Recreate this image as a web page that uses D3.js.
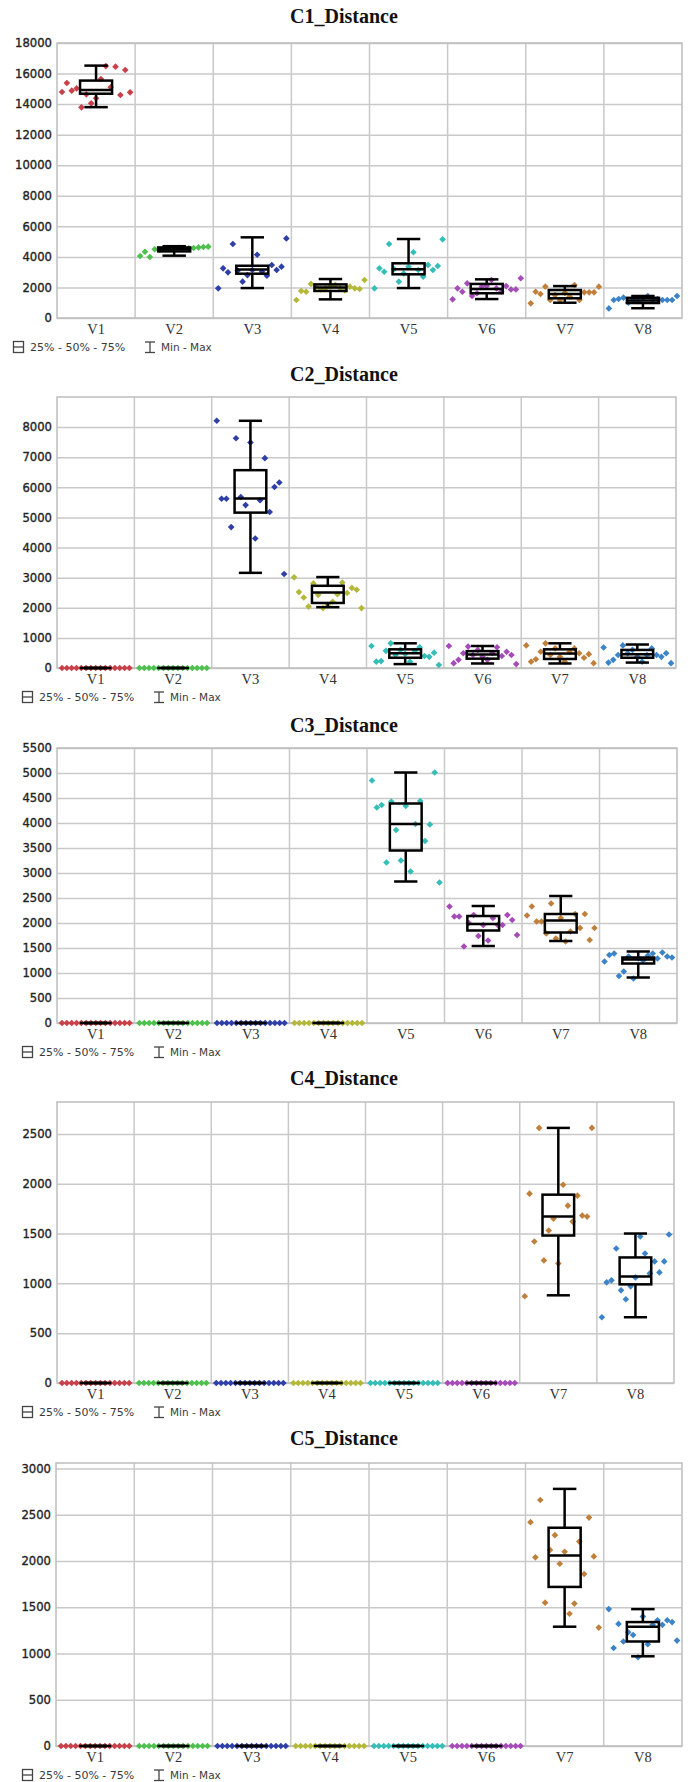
<!DOCTYPE html>
<html><head><meta charset="utf-8">
<script src="https://cdn.jsdelivr.net/npm/d3@7"></script>
<style>body{margin:0;background:#fff;} svg{display:block;}</style>
</head><body>
<svg id="chart" width="688" height="1782"></svg>
<script>
// ---------- DATA ----------
const categories = ["V1","V2","V3","V4","V5","V6","V7","V8"];
const colors = ["#c8404a","#4fc04f","#2f3fa8","#b4b83a","#35bdb8","#a64cb8","#c0803c","#3c84c8"];
const titles = ["C1_Distance","C2_Distance","C3_Distance","C4_Distance","C5_Distance"];
const zeros = [0,0,0,0,0,0,0,0,0,0,0,0,0,0,0];
const zeroStats = [0,0,0,0,0];

// C1
const c1Max = 18000;
const c1Ticks = [0,2000,4000,6000,8000,10000,12000,14000,16000,18000];
const c1Values = [
  [14790,15380,14880,15030,13790,14640,14050,14380,15640,16490,15100,16450,14600,16230,14770],
  [4060,4340,3990,4500,4450,4520,4480,4550,4600,4520,4560,4580,4620,4650,4670],
  [1940,3250,2990,4840,3100,2380,2810,3140,4140,3030,2770,3470,3140,3360,5210],
  [1180,1770,1720,2230,2050,1870,1940,2050,2180,1940,1800,2050,1940,1900,2490],
  [1940,3250,3030,4840,3200,2380,2920,3360,4300,3140,2700,3470,3140,3400,5150],
  [1220,1940,1720,2270,1440,1620,2050,2100,2490,1940,1720,2090,1870,1870,2600],
  [960,1720,1570,2050,1180,1500,1180,1640,1400,2160,1180,1680,1680,1680,2050],
  [630,1180,1240,1330,1000,1150,1100,1300,1440,1200,1240,1180,1180,1180,1440]
];
const c1Stats = [ // min, q1, median, q3, max
  [13800,14680,14920,15540,16520],
  [4080,4360,4500,4620,4700],
  [1960,2900,3180,3420,5280],
  [1220,1770,1990,2200,2550],
  [1960,2860,3190,3580,5170],
  [1240,1620,1900,2230,2530],
  [1000,1290,1570,1830,2090],
  [640,980,1150,1320,1440]
];

// C2
const c2Max = 9000;
const c2Ticks = [0,1000,2000,3000,4000,5000,6000,7000,8000];
const c2Values = [
  zeros, zeros,
  [8210,5620,5620,4680,7630,5680,5410,7490,4300,5570,6970,5180,6010,6160,3120],
  [3010,2520,2340,2040,2810,2430,1990,2100,2200,2450,2840,2490,2660,2600,1990],
  [730,210,230,570,820,430,600,470,210,570,690,400,370,510,100],
  [730,160,270,490,710,430,600,370,270,490,690,400,540,430,130],
  [750,210,290,540,820,430,650,370,210,540,650,490,340,460,160],
  [680,180,270,430,750,490,600,370,210,430,650,430,370,490,160]
];
const c2Stats = [
  zeroStats, zeroStats,
  [3160,5160,5630,6570,8210],
  [2020,2160,2510,2730,3020],
  [130,340,490,620,820],
  [150,310,450,560,730],
  [150,300,480,620,820],
  [180,340,460,600,780]
];

// C3
const c3Max = 5500;
const c3Ticks = [0,500,1000,1500,2000,2500,3000,3500,4000,4500,5000,5500];
const c3Values = [
  zeros, zeros, zeros, zeros,
  [4850,4310,4360,3210,4430,3860,3250,4340,3030,3980,4440,3640,3970,5010,2810],
  [2330,2130,2130,1530,2000,2160,1740,1960,1650,2100,1960,1960,2160,2060,1760],
  [2150,2330,2030,2030,1790,2390,1690,2100,1630,1830,2180,1900,2180,1660,1900],
  [1230,1360,1390,940,1030,1330,890,1290,1250,1350,1390,1290,1410,1330,1310]
];
const c3Stats = [
  zeroStats, zeroStats, zeroStats, zeroStats,
  [2830,3450,3980,4390,5010],
  [1540,1850,1980,2140,2340],
  [1640,1810,2050,2180,2540],
  [910,1190,1270,1310,1430]
];

// C4
const c4Max = 2820;
const c4Ticks = [0,500,1000,1500,2000,2500];
const c4Values = [
  zeros, zeros, zeros, zeros, zeros, zeros,
  [870,1900,1420,2560,1230,1530,1650,1200,1990,1780,1620,1880,1680,1670,2560],
  [660,1010,1030,1350,930,840,970,1060,1470,1300,1100,1220,1110,1220,1490]
];
const c4Stats = [
  zeroStats, zeroStats, zeroStats, zeroStats, zeroStats, zeroStats,
  [880,1480,1670,1890,2560],
  [660,990,1070,1260,1500]
];

// C5
const c5Max = 3060;
const c5Ticks = [0,500,1000,1500,2000,2500,3000];
const c5Values = [
  zeros, zeros, zeros, zeros, zeros, zeros,
  [2420,2040,2660,1550,2120,2280,1970,2100,1430,1540,2210,1860,2470,2050,1280],
  [1480,1060,1320,1130,1230,1200,960,1400,1100,1310,1360,1310,1360,1340,1140]
];
const c5Stats = [
  zeroStats, zeroStats, zeroStats, zeroStats, zeroStats, zeroStats,
  [1290,1720,2060,2360,2780],
  [970,1130,1290,1340,1480]
];

const legendBox = "25% - 50% - 75%";
const legendWhisker = "Min - Max";

// ---------- LAYOUT ----------
const panels = [
  {values:c1Values, stats:c1Stats, max:c1Max, ticks:c1Ticks, top:43,  bottom:318,  left:57, right:682, titleY:23,   legendX:13},
  {values:c2Values, stats:c2Stats, max:c2Max, ticks:c2Ticks, top:397, bottom:668,  left:57, right:676, titleY:381,  legendX:22},
  {values:c3Values, stats:c3Stats, max:c3Max, ticks:c3Ticks, top:748, bottom:1023, left:57, right:677, titleY:732,  legendX:22},
  {values:c4Values, stats:c4Stats, max:c4Max, ticks:c4Ticks, top:1102,bottom:1383, left:57, right:674, titleY:1085, legendX:22},
  {values:c5Values, stats:c5Stats, max:c5Max, ticks:c5Ticks, top:1463,bottom:1746, left:56, right:682, titleY:1445, legendX:22}
];

const svg = d3.select("#chart");
const gridColor = "#c9c9c9";
const dotSym = d3.symbol().type(d3.symbolSquare).size(22);

panels.forEach((p, pi) => {
  const g = svg.append("g");
  const x = d3.scaleBand().domain(categories).range([p.left, p.right]).padding(0);
  const y = d3.scaleLinear().domain([0, p.max]).range([p.bottom, p.top]);
  const bw = x.bandwidth();

  // title
  g.append("text").attr("x", 344).attr("y", p.titleY).attr("text-anchor","middle")
    .style("font-family","'Liberation Serif','Times New Roman',serif")
    .style("font-weight","bold").style("font-size","20px").attr("fill","#111")
    .text(titles[pi]);

  // horizontal grid + y labels
  const ya = g.append("g").attr("transform",`translate(${p.left},0)`)
    .call(d3.axisLeft(y).tickValues(p.ticks).tickSize(-(p.right-p.left)).tickPadding(5).tickFormat(d=>d));
  ya.select(".domain").remove();
  ya.selectAll("line").attr("stroke", gridColor).attr("stroke-width",1.5);
  ya.selectAll("text").style("font-family","'DejaVu Sans',Verdana,sans-serif")
    .style("font-size","11.6px").attr("fill","#222").attr("stroke","#222").attr("stroke-width",0.35);

  // vertical grid
  g.selectAll(".vg").data(categories.slice(1)).enter().append("line")
    .attr("x1", d=>x(d)).attr("x2", d=>x(d)).attr("y1", p.top).attr("y2", p.bottom)
    .attr("stroke", gridColor).attr("stroke-width",1.5);

  // frame
  g.append("rect").attr("x",p.left).attr("y",p.top).attr("width",p.right-p.left).attr("height",p.bottom-p.top)
    .attr("fill","none").attr("stroke","#bdbdbd").attr("stroke-width",1.5);

  // x labels
  const xa = g.append("g").attr("transform",`translate(0,${p.bottom})`)
    .call(d3.axisBottom(x).tickSize(0).tickPadding(6));
  xa.select(".domain").remove();
  xa.selectAll("text").style("font-family","'Liberation Serif','Times New Roman',serif")
    .style("font-size","14.5px").attr("fill","#333");

  // dots
  categories.forEach((c, ci) => {
    const vals = p.values[ci];
    const n = vals.length;
    const step = (bw - 10) / (n - 1);
    g.selectAll(null).data(vals).enter().append("path")
      .attr("d", dotSym)
      .attr("transform", (d, j) => `translate(${x(c) + 5 + j*step},${y(d)}) rotate(45)`)
      .attr("fill", colors[ci]);
  });

  // boxes
  categories.forEach((c, ci) => {
    const [mn, q1, md, q3, mx] = p.stats[ci];
    const cx = x(c) + bw/2;
    const boxW = bw * 0.41, capW = bw * 0.30;
    const bg = g.append("g").attr("stroke","#000").attr("stroke-width",2.5).attr("fill","none");
    bg.append("line").attr("x1",cx).attr("x2",cx).attr("y1",y(mx)).attr("y2",y(q3));
    bg.append("line").attr("x1",cx).attr("x2",cx).attr("y1",y(q1)).attr("y2",y(mn));
    bg.append("line").attr("x1",cx-capW/2).attr("x2",cx+capW/2).attr("y1",y(mx)).attr("y2",y(mx));
    bg.append("line").attr("x1",cx-capW/2).attr("x2",cx+capW/2).attr("y1",y(mn)).attr("y2",y(mn));
    bg.append("rect").attr("x",cx-boxW/2).attr("y",y(q3)).attr("width",boxW).attr("height",Math.max(0,y(q1)-y(q3)));
    bg.append("line").attr("x1",cx-boxW/2).attr("x2",cx+boxW/2).attr("y1",y(md)).attr("y2",y(md));
  });

  // legend
  const ly = p.bottom + 33;
  const lg = g.append("g").attr("transform",`translate(${p.legendX},${ly})`);
  lg.append("rect").attr("x",0.5).attr("y",-9.5).attr("width",10).attr("height",11)
    .attr("fill","none").attr("stroke","#444").attr("stroke-width",1.3);
  lg.append("line").attr("x1",0.5).attr("x2",10.5).attr("y1",-4).attr("y2",-4).attr("stroke","#444").attr("stroke-width",1.3);
  lg.append("text").attr("x",17).attr("y",0).style("font-family","'DejaVu Sans',Verdana,sans-serif")
    .style("font-size","11px").attr("fill","#3a3a3a").text(legendBox);
  const wx = 132;
  lg.append("line").attr("x1",wx+5).attr("x2",wx+5).attr("y1",-9).attr("y2",1.5).attr("stroke","#444").attr("stroke-width",1.3);
  lg.append("line").attr("x1",wx).attr("x2",wx+10).attr("y1",-9).attr("y2",-9).attr("stroke","#444").attr("stroke-width",1.3);
  lg.append("line").attr("x1",wx).attr("x2",wx+10).attr("y1",1.5).attr("y2",1.5).attr("stroke","#444").attr("stroke-width",1.3);
  lg.append("text").attr("x",wx+16).attr("y",0).style("font-family","'DejaVu Sans',Verdana,sans-serif")
    .style("font-size","10.5px").attr("fill","#3a3a3a").text(legendWhisker);
});
</script>
</body></html>
